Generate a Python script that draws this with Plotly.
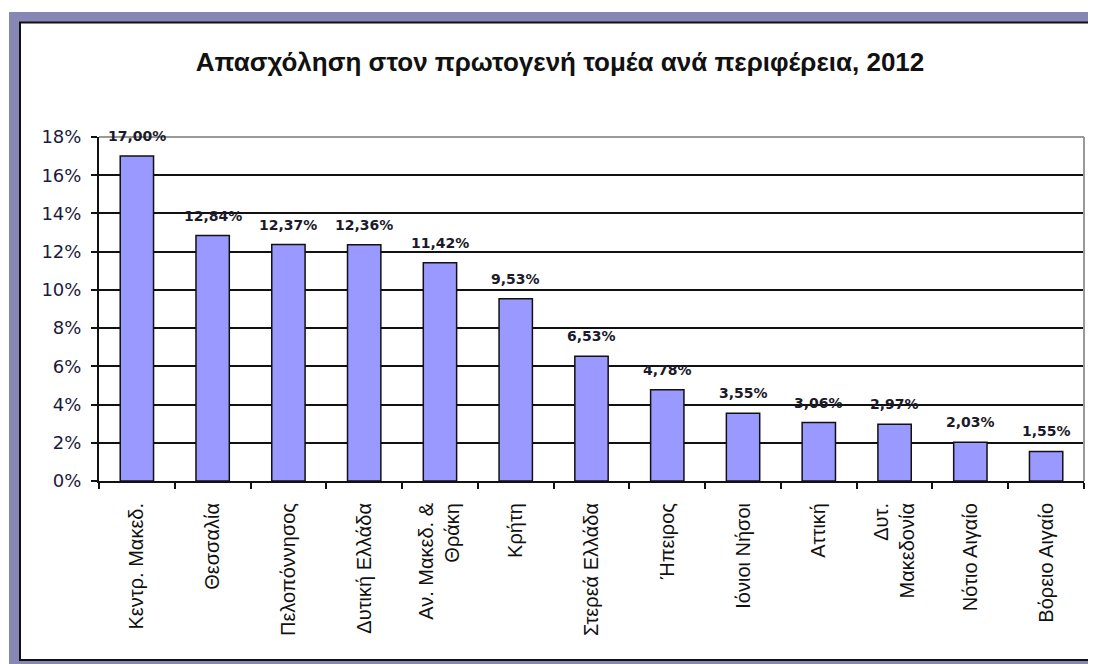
import plotly.graph_objects as go

regions = ["Κεντρ. Μακεδ.", "Θεσσαλία", "Πελοπόννησος", "Δυτική Ελλάδα",
           "Αν. Μακεδ. &<br>Θράκη", "Κρήτη", "Στερεά Ελλάδα", "Ήπειρος",
           "Ιόνιοι Νήσοι", "Αττική", "Δυτ.<br>Μακεδονία", "Νότιο Αιγαίο",
           "Βόρειο Αιγαίο"]
employment = [17.00, 12.84, 12.37, 12.36, 11.42, 9.53, 6.53, 4.78, 3.55,
              3.06, 2.97, 2.03, 1.55]
title_text = "Απασχόληση στον πρωτογενή τομέα ανά περιφέρεια, 2012"

# page body has an 8px margin; compensate so the figure fills the window
OFF = 8
W, H = 1096 - OFF, 664 - OFF
L, R, T, B = 99 - OFF, 1084 - OFF, 137 - OFF, 481 - OFF


def px(x):
    return (x - OFF - L) / (R - L)


def py(y):
    return (B - (y - OFF)) / (B - T)


fig = go.Figure()
fig.add_trace(go.Bar(
    x=regions,
    y=[v / 100 for v in employment],
    marker=dict(color="#9999FF", line=dict(color="#111111", width=1.5)),
    hoverinfo="skip",
))

for r, v in zip(regions, employment):
    fig.add_annotation(
        x=r, y=v / 100, xref="x", yref="y",
        text=f"<b>{v:.2f}%</b>".replace(".", ","),
        showarrow=False, yanchor="bottom", yshift=10,
        font=dict(family="DejaVu Sans", size=14, color="#1a1a2a"),
    )

purple = "#8787B6"
shapes = [
    # outer purple frame
    dict(type="rect", xref="paper", yref="paper", x0=px(9), x1=px(1096),
         y0=py(12), y1=py(22), fillcolor=purple, line=dict(width=0), layer="below"),
    dict(type="rect", xref="paper", yref="paper", x0=px(9), x1=px(19),
         y0=py(12), y1=py(664), fillcolor=purple, line=dict(width=0), layer="below"),
    dict(type="rect", xref="paper", yref="paper", x0=px(9), x1=px(1096),
         y0=py(661), y1=py(664), fillcolor=purple, line=dict(width=0), layer="below"),
    # black inner border
    dict(type="line", xref="paper", yref="paper", x0=px(19), x1=px(1096),
         y0=py(22.5), y1=py(22.5), line=dict(color="#111111", width=2)),
    dict(type="line", xref="paper", yref="paper", x0=px(20), x1=px(20),
         y0=py(22), y1=py(661), line=dict(color="#111111", width=2)),
    dict(type="line", xref="paper", yref="paper", x0=px(19), x1=px(1096),
         y0=py(660), y1=py(660), line=dict(color="#111111", width=2)),
    # plot area grey border top/right
    dict(type="line", xref="paper", yref="paper", x0=0, x1=1,
         y0=1, y1=1, line=dict(color="#999999", width=2)),
    dict(type="line", xref="paper", yref="paper", x0=1, x1=1,
         y0=0, y1=1, line=dict(color="#999999", width=2)),
]

fig.update_layout(
    width=W, height=H,
    margin=dict(l=L, r=W - R, t=T, b=H - B, pad=0),
    paper_bgcolor="white", plot_bgcolor="white",
    showlegend=False,
    bargap=0.56,
    shapes=shapes,
    title=dict(text=f"<b>{title_text}</b>", x=(560 - OFF) / W, xanchor="center",
               y=1 - (62 - OFF) / H, yanchor="middle",
               font=dict(family="Liberation Sans", size=26, color="#111111")),
    xaxis=dict(
        showline=True, linecolor="#111111", linewidth=2,
        ticks="outside", tickson="boundaries", ticklen=6, tickwidth=1.5,
        tickcolor="#111111", tickangle=-90, ticklabelstandoff=12,
        tickfont=dict(family="Liberation Sans", size=20, color="#111111"),
        showgrid=False, fixedrange=True,
    ),
    yaxis=dict(
        range=[0, 0.18], dtick=0.02, tickformat=".0%",
        showline=True, linecolor="#111111", linewidth=2,
        ticks="outside", ticklen=6, tickwidth=1.5, tickcolor="#111111",
        ticklabelstandoff=6,
        showgrid=True, gridcolor="#111111", gridwidth=1.5,
        zeroline=False,
        tickfont=dict(family="DejaVu Sans", size=18, color="#1a1a3a"),
        fixedrange=True,
    ),
)

fig.write_html("out.html")
